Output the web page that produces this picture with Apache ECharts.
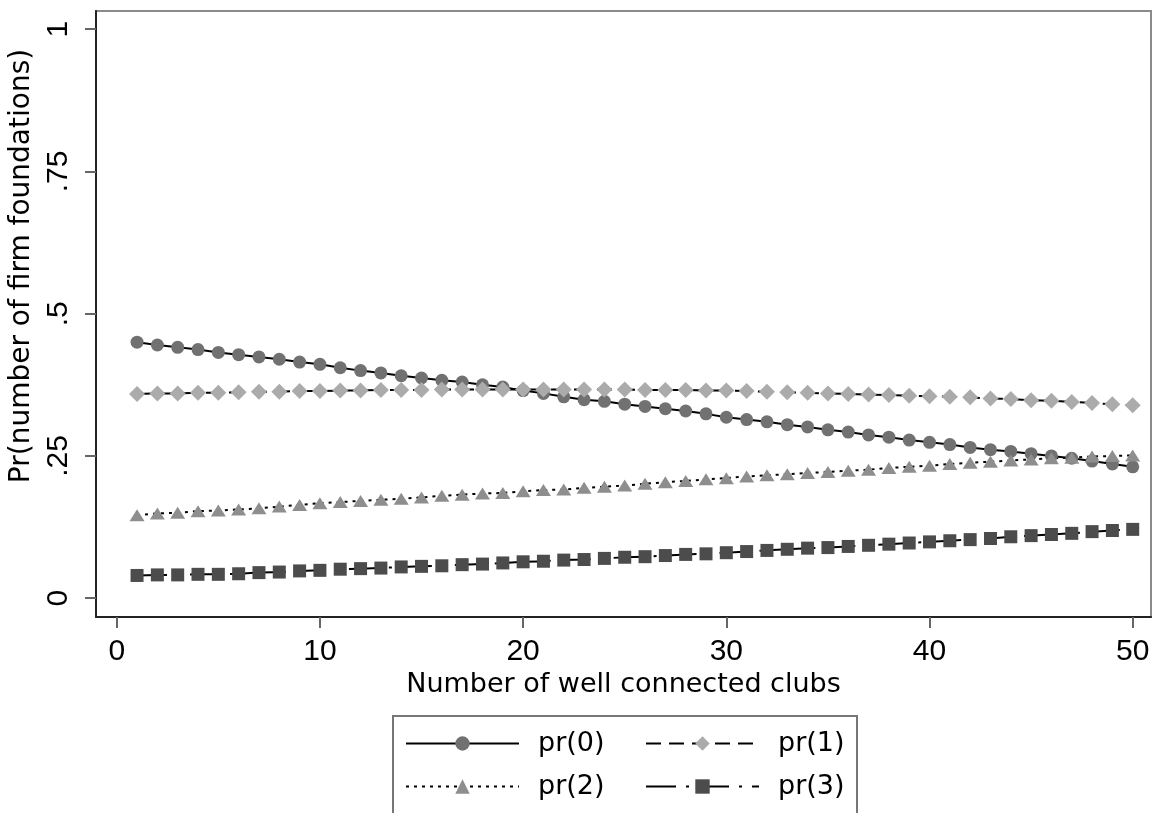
<!DOCTYPE html>
<html>
<head>
<meta charset="utf-8">
<script src="https://cdn.jsdelivr.net/npm/echarts@6/dist/echarts.min.js"></script>
<style>
html,body{margin:0;padding:0;background:#fff;}
#chart{width:1157px;height:813px;}
</style>
</head>
<body>
<div id="chart"></div>
<script>
// ---- data ----
const clubs = [1,2,3,4,5,6,7,8,9,10,11,12,13,14,15,16,17,18,19,20,21,22,23,24,25,26,27,28,29,30,31,32,33,34,35,36,37,38,39,40,41,42,43,44,45,46,47,48,49,50];
const pr0 = [0.450,0.445,0.441,0.437,0.432,0.428,0.424,0.420,0.415,0.411,0.405,0.400,0.396,0.391,0.387,0.383,0.380,0.375,0.371,0.365,0.360,0.354,0.349,0.346,0.341,0.337,0.333,0.329,0.324,0.318,0.314,0.310,0.305,0.301,0.296,0.292,0.287,0.283,0.278,0.274,0.270,0.265,0.261,0.258,0.254,0.250,0.246,0.241,0.236,0.231];
const pr1 = [0.359,0.360,0.360,0.361,0.361,0.362,0.363,0.363,0.364,0.364,0.365,0.365,0.366,0.366,0.366,0.367,0.367,0.367,0.367,0.367,0.367,0.367,0.367,0.367,0.367,0.366,0.366,0.366,0.365,0.365,0.364,0.363,0.362,0.361,0.360,0.359,0.358,0.357,0.356,0.355,0.354,0.353,0.351,0.350,0.348,0.347,0.345,0.343,0.341,0.339];
const pr2 = [0.146,0.149,0.150,0.153,0.154,0.156,0.158,0.161,0.164,0.167,0.169,0.171,0.173,0.175,0.177,0.180,0.182,0.184,0.185,0.188,0.190,0.191,0.194,0.196,0.198,0.201,0.204,0.206,0.209,0.211,0.214,0.216,0.218,0.220,0.222,0.224,0.226,0.229,0.231,0.233,0.236,0.238,0.240,0.242,0.244,0.246,0.247,0.249,0.250,0.251];
const pr3 = [0.040,0.041,0.041,0.042,0.042,0.043,0.045,0.046,0.048,0.049,0.051,0.052,0.053,0.055,0.056,0.057,0.059,0.060,0.062,0.064,0.065,0.067,0.068,0.070,0.072,0.073,0.075,0.077,0.078,0.080,0.082,0.084,0.086,0.088,0.089,0.091,0.093,0.095,0.097,0.099,0.101,0.103,0.105,0.108,0.110,0.112,0.114,0.117,0.119,0.121];
const seriesNames = ['pr(0)','pr(1)','pr(2)','pr(3)'];
const xTickValues = [0,10,20,30,40,50];
const yTickValues = [0,0.25,0.5,0.75,1];
const yTickLabels = ['0','.25','.5','.75','1'];
const xTitle = 'Number of well connected clubs';
const yTitle = 'Pr(number of firm foundations)';

// ---- chart ----
const pairs = vals => clubs.map((x,i)=>[x, vals[i]]);
const chart = echarts.init(document.getElementById('chart'), null, {renderer:'canvas'});
const tickFont = 'Liberation Sans, Arial, sans-serif';
const textFont = 'DejaVu Sans, Verdana, sans-serif';

const styles = [
  {symbol:'circle', size:13, color:'#717171', line:'solid'},
  {symbol:'diamond', size:16, color:'#ababab', line:[15,8]},
  {symbol:'triangle', size:[15,12], color:'#8e8e8e', line:[3,5]},
  {symbol:'rect', size:13, color:'#4c4c4c', line:[30,10,3,10]}
];
const allVals = [pr0,pr1,pr2,pr3];

const legendPos = [
  {left:405, top:730},
  {left:645, top:730},
  {left:405, top:773},
  {left:645, top:773}
];

const option = {
  animation:false,
  backgroundColor:'#ffffff',
  grid:{left:96, right:6, top:11, bottom:196, show:true, borderColor:'#8a8a8a', borderWidth:2, containLabel:false},
  xAxis:{
    type:'value', min:-1.02, max:50.9,
    splitLine:{show:false},
    axisLine:{show:true, onZero:false, lineStyle:{color:'#222', width:2}},
    axisTick:{show:true, length:11, customValues:xTickValues, lineStyle:{color:'#666', width:2}},
    axisLabel:{customValues:xTickValues, fontFamily:tickFont, fontSize:30, color:'#000', margin:20},
    name:xTitle, nameLocation:'middle', nameGap:48,
    nameTextStyle:{fontFamily:textFont, fontSize:27, color:'#000'}
  },
  yAxis:{
    type:'value', min:-0.033, max:1.032,
    splitLine:{show:false},
    axisLine:{show:true, onZero:false, lineStyle:{color:'#222', width:2}},
    axisTick:{show:true, length:11, customValues:yTickValues, lineStyle:{color:'#666', width:2}},
    axisLabel:{customValues:yTickValues, rotate:90, fontFamily:tickFont, fontSize:30, color:'#000', margin:22,
      formatter:v=>{const i=yTickValues.findIndex(t=>Math.abs(t-v)<1e-9); return i>=0?yTickLabels[i]:'';}},
    name:yTitle, nameLocation:'middle', nameGap:56,
    nameTextStyle:{fontFamily:textFont, fontSize:28, color:'#000', padding:[0,0,0,96]}
  },
  legend: seriesNames.map((n,i)=>({
    data:[n], left:legendPos[i].left, top:legendPos[i].top,
    itemWidth:113, itemHeight:18, itemGap:0, padding:0,
    textStyle:{fontFamily:textFont, fontSize:27, color:'#000', padding:[0,0,0,14]}
  })),
  graphic:[{
    type:'rect', shape:{x:393, y:716, width:464, height:110},
    style:{fill:'none', stroke:'#777', lineWidth:2}, silent:true, z:-1
  }],
  series: seriesNames.map((n,i)=>({
    name:n, type:'line', data:pairs(allVals[i]),
    symbol:styles[i].symbol, symbolSize:styles[i].size, showSymbol:true,
    lineStyle:{color:'#000', width:2, type:styles[i].line},
    itemStyle:{color:styles[i].color, borderWidth:0},
    emphasis:{disabled:true}
  }))
};
chart.setOption(option);
</script>
</body>
</html>
